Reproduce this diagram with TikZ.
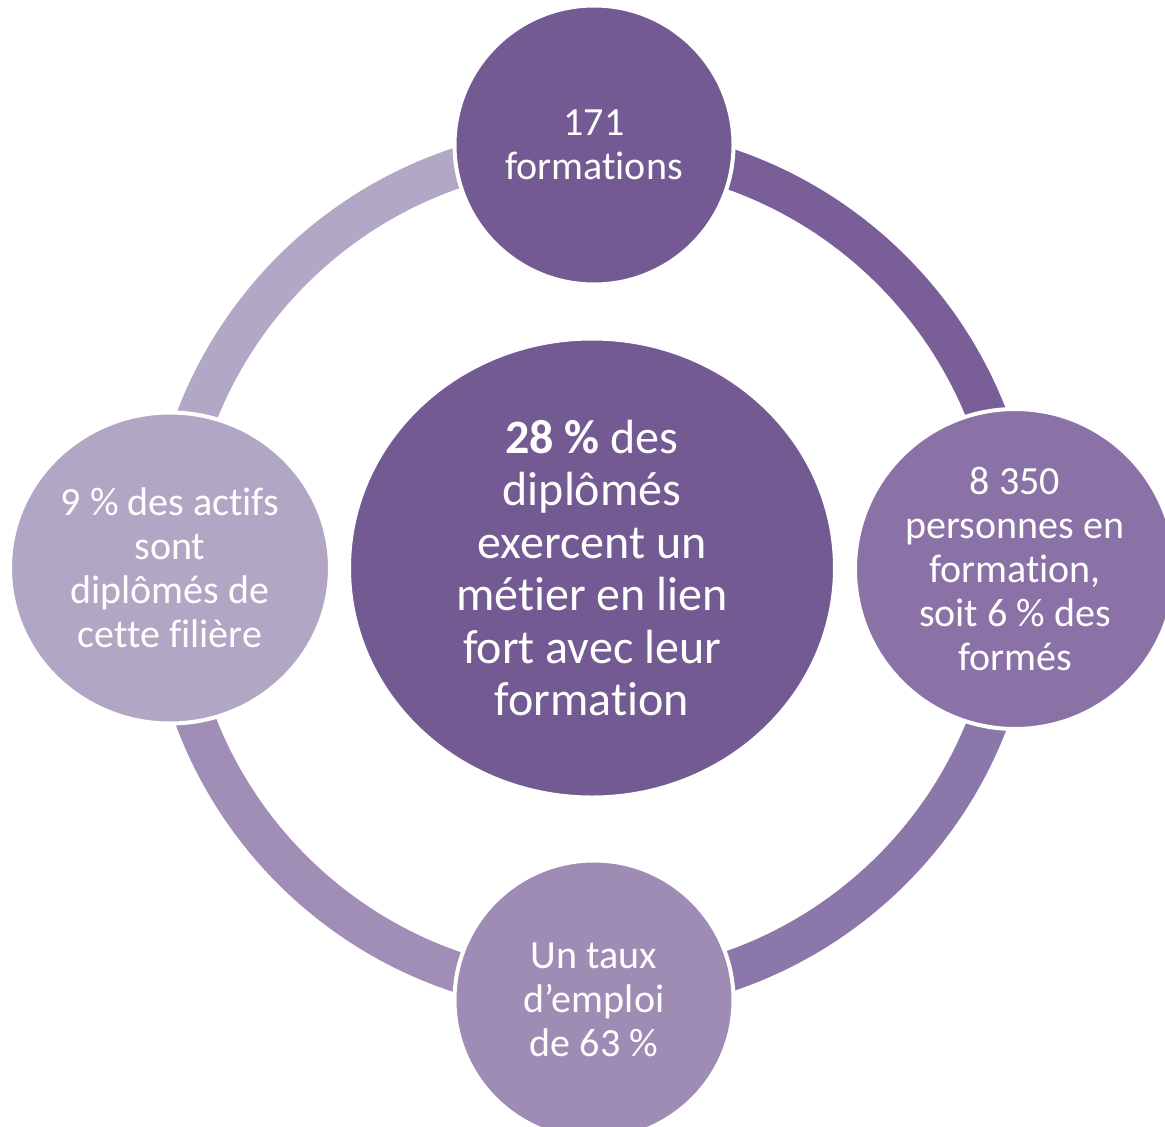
\documentclass[tikz,border=0pt]{standalone}
\usepackage{fontspec}
\setmainfont{Carlito}[Ligatures={NoCommon}]
\usetikzlibrary{shapes.geometric}
\definecolor{cTop}{HTML}{735A93}
\definecolor{cRight}{HTML}{8A72A7}
\definecolor{cBottom}{HTML}{9E8CB5}
\definecolor{cLeft}{HTML}{B1A7C5}
\definecolor{rTR}{HTML}{7A5E98}
\definecolor{rRB}{HTML}{8B77A9}
\definecolor{rBL}{HTML}{A08EB7}
\definecolor{rLT}{HTML}{B2A8C6}
\tikzset{
  ringarc/.style={line width=40pt},
  bubble/.style={ellipse, inner sep=0pt, draw=white, line width=4pt, text=white,
    align=center, font=\fontsize{40}{44}\selectfont},
  hub/.style={bubble, font=\fontsize{48}{52.5}\selectfont}
}
\begin{document}
\begin{tikzpicture}[x=1pt,y=-1pt]
\clip (0,0) rectangle (1165,1127);
\coordinate (c) at (592,570);
% ring
\draw[ringarc, rTR] (c) ++(270:424) arc[start angle=270, end angle=360, radius=424];
\draw[ringarc, rRB] (c) ++(0:424) arc[start angle=0, end angle=90, radius=424];
\draw[ringarc, rBL] (c) ++(90:424) arc[start angle=90, end angle=180, radius=424];
\draw[ringarc, rLT] (c) ++(180:424) arc[start angle=180, end angle=270, radius=424];
% circles
\node[hub, fill=cTop, minimum width=486pt, minimum height=459pt] (center) at (592,568)
  {\textbf{28 \%} des\\diplômés\\exercent un\\métier en lien\\fort avec leur\\formation};
\node[bubble, fill=cTop, minimum width=279pt, minimum height=279pt] (top) at (594,145)
  {171\\formations};
\node[bubble, fill=cRight, minimum width=320pt, minimum height=320pt] (right) at (1015,569)
  {8 350\\personnes en\\formation,\\soit 6 \% des\\formés};
\node[bubble, fill=cBottom, minimum width=279pt, minimum height=279pt] (bottom) at (594,1000)
  {Un taux\\d’emploi\\de 63 \%};
\node[bubble, fill=cLeft, minimum width=320pt, minimum height=311pt] (left) at (170,568)
  {9 \% des actifs\\sont\\diplômés de\\cette filière};
\end{tikzpicture}
\end{document}
